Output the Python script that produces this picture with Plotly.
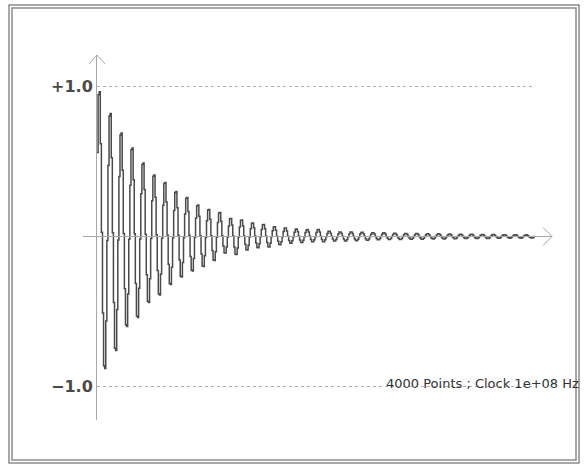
import plotly.graph_objects as go

# ---- data ----
n_points = 4000
clock_hz = 1e8
samples_per_step = 10          # displayed sample-and-hold step (points)
# positive peak amplitude of each of the 40 cycles
pos_peaks = [0.965, 0.82, 0.69, 0.59, 0.49, 0.41, 0.36, 0.30, 0.26, 0.21,
             0.18, 0.16, 0.12, 0.11, 0.09, 0.08, 0.065, 0.057, 0.05, 0.046,
             0.046, 0.035, 0.03, 0.03, 0.028, 0.025, 0.025, 0.022, 0.02, 0.02,
             0.018, 0.018, 0.016, 0.015, 0.015, 0.014, 0.013, 0.012, 0.012, 0.011]
# negative trough amplitude of each cycle
neg_troughs = [-0.88, -0.76, -0.60, -0.54, -0.44, -0.39, -0.32, -0.27, -0.23, -0.20,
               -0.16, -0.11, -0.12, -0.09, -0.075, -0.07, -0.055, -0.045, -0.04, -0.035,
               -0.035, -0.03, -0.03, -0.028, -0.025, -0.022, -0.02, -0.02, -0.018, -0.018,
               -0.016, -0.016, -0.015, -0.014, -0.013, -0.013, -0.012, -0.011, -0.011, -0.01]
# relative step levels inside one cycle (read from the first cycle)
cycle_shape_pos = [0.58, 0.98, 1.0, 0.64, 0.03]
cycle_shape_neg = [0.58, 0.98, 1.0, 0.64, 0.03]
tick_values = [1.0, -1.0]
tick_labels = ["+1.0", "\u22121.0"]
caption = "4000 Points ; Clock 1e+08 Hz"

# ---- build the step series ----
xs, ys = [], []
idx = 0
for p, n in zip(pos_peaks, neg_troughs):
    for f in cycle_shape_pos:
        xs.append(idx); ys.append(f * p); idx += samples_per_step
    for f in cycle_shape_neg:
        xs.append(idx); ys.append(f * n); idx += samples_per_step
xs.append(n_points); ys.append(ys[-1])

W, H = 587, 465
L, R, T, B = 97, 52, 55, 45          # plot area: x 97..535, y 55..420
zero_px = 236.5
unit_px = 150.0
y_top = (zero_px - T) / unit_px
y_bot = -((H - B) - zero_px) / unit_px

fig = go.Figure()
fig.add_trace(go.Scatter(x=xs, y=ys, mode="lines", line_shape="hv",
                         line=dict(color="#4a4a4a", width=1.5),
                         hoverinfo="skip", showlegend=False))

def px(xp):
    return (xp - L) / (W - L - R)

def py(yp):
    return ((H - B) - yp) / (H - T - B)

shapes = []
gray = "#a8a8a8"
# x axis line with open arrow
shapes.append(dict(type="line", xref="paper", yref="y", x0=px(83), x1=px(552), y0=0, y1=0,
                   line=dict(color=gray, width=1)))
shapes.append(dict(type="line", xref="paper", yref="paper", x0=px(552), y0=py(236.5),
                   x1=px(543), y1=py(227.5), line=dict(color=gray, width=1)))
shapes.append(dict(type="line", xref="paper", yref="paper", x0=px(552), y0=py(236.5),
                   x1=px(543), y1=py(245.5), line=dict(color=gray, width=1)))
# y axis arrow head
shapes.append(dict(type="line", xref="paper", yref="paper", x0=px(97), y0=py(55),
                   x1=px(89), y1=py(64), line=dict(color=gray, width=1)))
shapes.append(dict(type="line", xref="paper", yref="paper", x0=px(97), y0=py(55),
                   x1=px(105), y1=py(64), line=dict(color=gray, width=1)))
# double frame
shapes.append(dict(type="rect", xref="paper", yref="paper", x0=px(9), x1=px(579),
                   y0=py(5), y1=py(463), line=dict(color="#8c8c8c", width=1.5)))
shapes.append(dict(type="rect", xref="paper", yref="paper", x0=px(12), x1=px(576),
                   y0=py(8), y1=py(460), line=dict(color="#8c8c8c", width=1.5)))

fig.add_annotation(text=caption, xref="paper", yref="paper", x=px(581), y=py(383),
                   xanchor="right", yanchor="middle", showarrow=False,
                   font=dict(family="DejaVu Sans", size=13, color="#333333"))

fig.update_layout(
    width=W, height=H, margin=dict(l=L, r=R, t=T, b=B),
    paper_bgcolor="white", plot_bgcolor="white",
    shapes=shapes,
    xaxis=dict(range=[0, n_points], showgrid=False, zeroline=False, showline=False,
               showticklabels=False, ticks=""),
    yaxis=dict(range=[y_bot, y_top], tickvals=tick_values, ticktext=["<b>" + t + "</b>" for t in tick_labels],
               showgrid=True, gridcolor="#b0b0b0", griddash="dot", gridwidth=1,
               zeroline=False, showline=True, linecolor=gray, linewidth=1,
               ticks="", ticklen=0,
               tickfont=dict(family="DejaVu Sans", size=16, color="#4a4a4a")),
)
fig.write_html("out.html", post_script="document.body.style.margin='0';",
               config={"displayModeBar": False})
